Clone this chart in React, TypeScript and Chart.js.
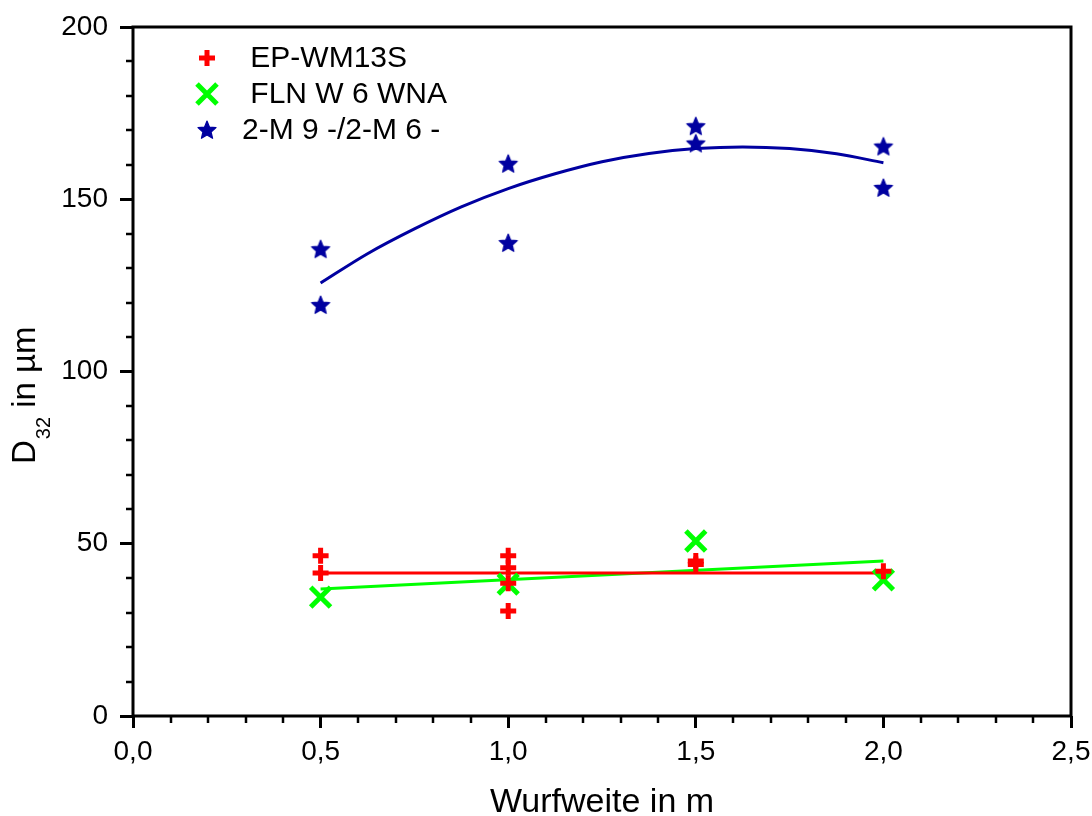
import React, { useEffect, useRef } from "react";
import { Chart, registerables } from "chart.js";

Chart.register(...registerables);

// ---- data ----
const seriesNames = [" EP-WM13S", " FLN W 6 WNA", "2-M 9 -/2-M 6 -"];

const epX = [0.5, 0.5, 1.0, 1.0, 1.0, 1.0, 1.5, 1.5, 2.0];
const epY = [46.5, 41.5, 46.5, 43.0, 38.5, 30.5, 45.0, 44.0, 42.0];

const flnX = [0.5, 1.0, 1.5, 2.0];
const flnY = [34.5, 38.3, 50.8, 39.5];

const mX = [0.5, 0.5, 1.0, 1.0, 1.5, 1.5, 2.0, 2.0];
const mY = [135.5, 119.3, 160.3, 137.3, 171.2, 166.2, 165.3, 153.3];

// fit curves
const epFitX = [0.5, 2.0];
const epFitY = [41.5, 41.5];
const flnFitX = [0.5, 2.0];
const flnFitY = [36.9, 45.0];
const mFitX = [0.5, 0.625, 0.75, 0.875, 1.0, 1.125, 1.25, 1.375, 1.5, 1.625, 1.75, 1.875, 2.0];
const mFitY = [125.7, 134.2, 141.4, 147.8, 153.1, 157.4, 160.9, 163.3, 164.7, 165.2, 164.7, 163.2, 160.6];

const xTickValues = [0, 0.5, 1.0, 1.5, 2.0, 2.5];
const yTickValues = [0, 50, 100, 150, 200];

const RED = "#FF0000";
const GREEN = "#00FF00";
const BLUE = "#0000A0";
const FONT = "'Liberation Sans', Arial, Helvetica, sans-serif";

const zip = (xs: number[], ys: number[]) => xs.map((x, i) => ({ x, y: ys[i] }));

function makeStar(color: string): HTMLCanvasElement {
  const c = document.createElement("canvas");
  c.width = 22;
  c.height = 22;
  const ctx = c.getContext("2d")!;
  ctx.fillStyle = color;
  ctx.strokeStyle = color;
  ctx.lineWidth = 1.2;
  ctx.lineJoin = "round";
  ctx.beginPath();
  const cx = 11, cy = 11.6, ro = 9.5, ri = 4.3;
  for (let i = 0; i < 10; i++) {
    const r = i % 2 === 0 ? ro : ri;
    const a = -Math.PI / 2 + (i * Math.PI) / 5;
    const px = cx + r * Math.cos(a);
    const py = cy + r * Math.sin(a);
    if (i === 0) ctx.moveTo(px, py);
    else ctx.lineTo(px, py);
  }
  ctx.closePath();
  ctx.fill();
  ctx.stroke();
  return c;
}

export default function App() {
  const ref = useRef<HTMLCanvasElement | null>(null);

  useEffect(() => {
    if (!ref.current) return;
    const star = makeStar(BLUE);

    const decor = {
      id: "decor",
      afterDraw(chart: any) {
        const ctx = chart.ctx as CanvasRenderingContext2D;
        const { left, right, top, bottom } = chart.chartArea;
        const xs = chart.scales.x;
        const ys = chart.scales.y;
        ctx.save();
        // frame
        ctx.strokeStyle = "#000";
        ctx.lineWidth = 3;
        ctx.strokeRect(left, top, right - left, bottom - top);
        // minor ticks
        ctx.lineWidth = 2.5;
        ctx.beginPath();
        for (let i = 1; i < 25; i++) {
          if (i % 5 === 0) continue;
          const px = Math.round(xs.getPixelForValue(i / 10));
          ctx.moveTo(px, bottom);
          ctx.lineTo(px, bottom + 7);
        }
        for (let v = 10; v < 200; v += 10) {
          if (v % 50 === 0) continue;
          const py = Math.round(ys.getPixelForValue(v));
          ctx.moveTo(left, py);
          ctx.lineTo(left - 7, py);
        }
        ctx.stroke();

        // x title
        ctx.fillStyle = "#000";
        ctx.font = `34px ${FONT}`;
        ctx.textAlign = "center";
        ctx.textBaseline = "alphabetic";
        ctx.fillText("Wurfweite in m", (left + right) / 2, 812);

        // y title with subscript
        ctx.save();
        ctx.translate(35, 464);
        ctx.rotate(-Math.PI / 2);
        ctx.textAlign = "left";
        ctx.font = `33px ${FONT}`;
        ctx.fillText("D", 0, 0);
        let w = ctx.measureText("D").width;
        ctx.font = `20px ${FONT}`;
        ctx.fillText("32", w + 1, 15);
        w += 1 + ctx.measureText("32").width;
        ctx.font = `33px ${FONT}`;
        ctx.fillText(" in µm", w, 0);
        ctx.restore();

        // legend
        const mx = 207;
        const rows = [58, 94, 130];
        // plus
        ctx.strokeStyle = RED;
        ctx.lineWidth = 5;
        ctx.beginPath();
        ctx.moveTo(mx - 8, rows[0]);
        ctx.lineTo(mx + 8, rows[0]);
        ctx.moveTo(mx, rows[0] - 8);
        ctx.lineTo(mx, rows[0] + 8);
        ctx.stroke();
        // x
        ctx.strokeStyle = GREEN;
        ctx.lineWidth = 5;
        ctx.beginPath();
        ctx.moveTo(mx - 10, rows[1] - 10);
        ctx.lineTo(mx + 10, rows[1] + 10);
        ctx.moveTo(mx + 10, rows[1] - 10);
        ctx.lineTo(mx - 10, rows[1] + 10);
        ctx.stroke();
        // star
        ctx.drawImage(star, mx - 11, rows[2] - 11);

        ctx.fillStyle = "#000";
        ctx.font = `30px ${FONT}`;
        ctx.textAlign = "left";
        ctx.textBaseline = "middle";
        seriesNames.forEach((n, i) => ctx.fillText(n, 242, rows[i] + 1));
        ctx.restore();
      },
    };

    const chart = new Chart(ref.current, {
      type: "scatter",
      data: {
        datasets: [
          {
            label: seriesNames[0],
            data: zip(epX, epY),
            pointStyle: "cross",
            pointRadius: 8,
            pointBorderWidth: 5,
            borderColor: RED,
            backgroundColor: RED,
            order: 0,
          },
          {
            label: seriesNames[1],
            data: zip(flnX, flnY),
            pointStyle: "crossRot",
            pointRadius: 14,
            pointBorderWidth: 5,
            borderColor: GREEN,
            backgroundColor: GREEN,
            order: 0,
          },
          {
            label: seriesNames[2],
            data: zip(mX, mY),
            pointStyle: star as any,
            pointRadius: 11,
            borderColor: BLUE,
            backgroundColor: BLUE,
            order: 0,
          },
          {
            label: "fit1",
            data: zip(epFitX, epFitY),
            showLine: true,
            pointRadius: 0,
            borderWidth: 3,
            borderColor: RED,
            order: 1,
          },
          {
            label: "fit2",
            data: zip(flnFitX, flnFitY),
            showLine: true,
            pointRadius: 0,
            borderWidth: 3,
            borderColor: GREEN,
            order: 1,
          },
          {
            label: "fit3",
            data: zip(mFitX, mFitY),
            showLine: true,
            pointRadius: 0,
            borderWidth: 3,
            borderColor: BLUE,
            cubicInterpolationMode: "monotone",
            order: 1,
          },
        ] as any,
      },
      options: {
        animation: false,
        responsive: false,
        layout: { padding: { top: 27, right: 21, left: 0, bottom: 0 } },
        plugins: { legend: { display: false }, tooltip: { enabled: false } },
        scales: {
          x: {
            type: "linear",
            min: 0,
            max: 2.5,
            afterFit: (s: any) => {
              s.height = 100;
              s.paddingLeft = 0;
              s.paddingRight = 0;
            },
            afterBuildTicks: (s: any) => {
              s.ticks = xTickValues.map((v) => ({ value: v }));
            },
            border: { display: false },
            grid: {
              display: true,
              drawOnChartArea: false,
              drawTicks: true,
              tickLength: 12,
              tickWidth: 3,
              tickColor: "#000",
            },
            ticks: {
              color: "#000",
              font: { family: FONT, size: 28 },
              padding: 7,
              maxRotation: 0,
              autoSkip: false,
              callback: (v: any) => Number(v).toFixed(1).replace(".", ","),
            },
          },
          y: {
            type: "linear",
            min: 0,
            max: 200,
            afterFit: (s: any) => {
              s.width = 133;
              s.paddingTop = 0;
              s.paddingBottom = 0;
            },
            afterBuildTicks: (s: any) => {
              s.ticks = yTickValues.map((v) => ({ value: v }));
            },
            border: { display: false },
            grid: {
              display: true,
              drawOnChartArea: false,
              drawTicks: true,
              tickLength: 13,
              tickWidth: 3,
              tickColor: "#000",
            },
            ticks: {
              color: "#000",
              font: { family: FONT, size: 28 },
              padding: 12,
              autoSkip: false,
              callback: (v: any) => String(v),
            },
          },
        },
      },
      plugins: [decor],
    });

    return () => chart.destroy();
  }, []);

  return (
    <div style={{ position: "absolute", left: 0, top: 0, width: 1092, height: 816, background: "#fff" }}>
      <canvas ref={ref} width={1092} height={816} style={{ display: "block" }} />
    </div>
  );
}
